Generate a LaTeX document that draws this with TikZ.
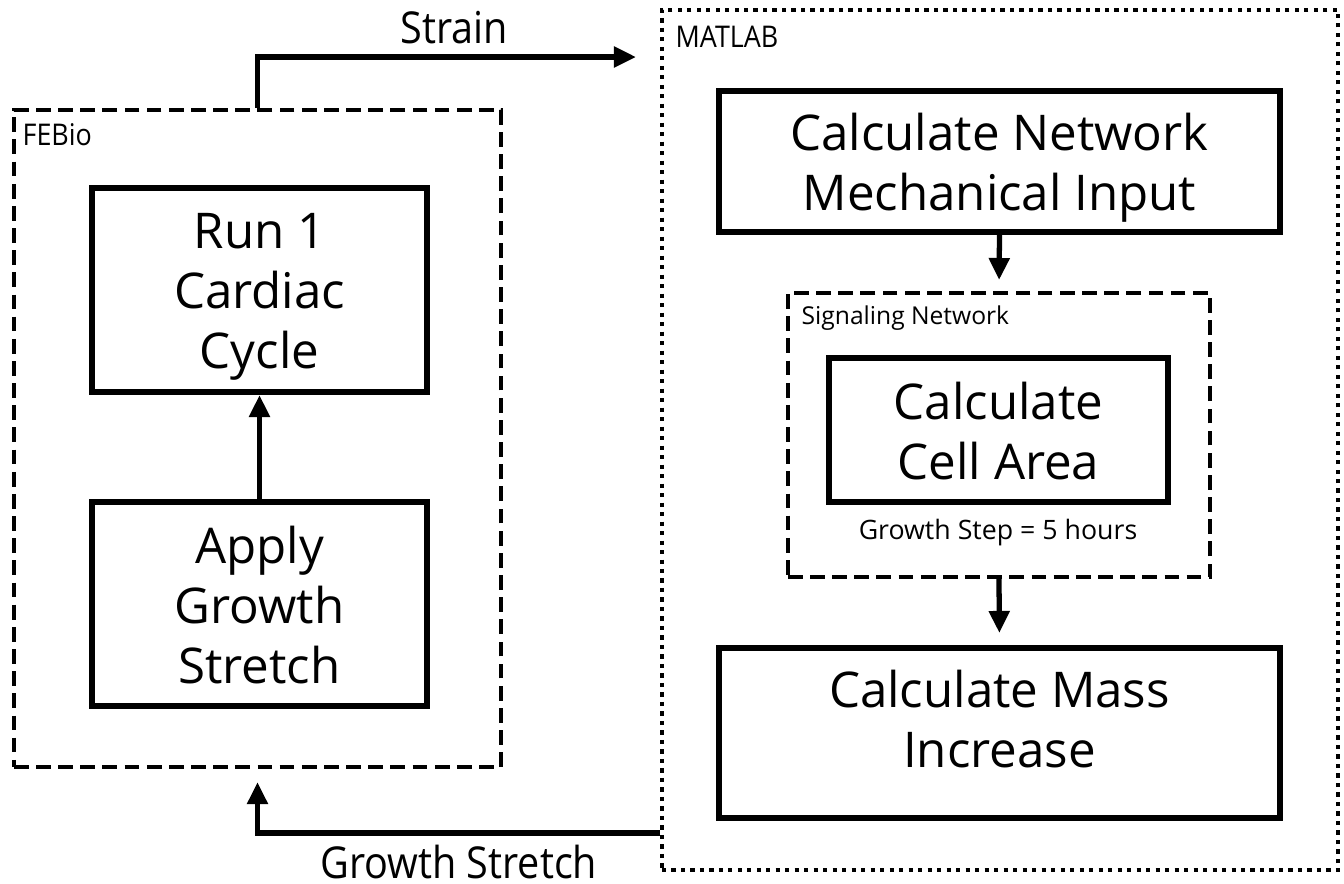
\documentclass[tikz,border=0pt]{standalone}
\usepackage{fontspec}
\setmainfont{Open Sans}
\newfontfamily\condfont[FakeStretch=0.9]{Open Sans}
\usetikzlibrary{arrows.meta,positioning}

% strut that fixes first ascent and last descent of box texts
\newcommand{\ps}{\rule[-3pt]{0pt}{17pt}}

\tikzset{
  procbox/.style={draw, line width=1.7pt, align=center, inner sep=0pt,
    font=\fontsize{14pt}{17pt}\selectfont},
  groupbox/.style={draw, line width=1.1pt, dash pattern=on 4.2pt off 2.1pt},
  toolbox/.style={draw, line width=1.1pt, dash pattern=on 1.2pt off 1.5pt},
  flow/.style={line width=1.5pt, -{Triangle[length=0.22cm,width=0.2cm]}},
  grouplabel/.style={anchor=north west, inner sep=0pt, font=\condfont\fontsize{8.5pt}{9pt}\selectfont},
  flowlabel/.style={inner sep=0pt, font=\condfont\fontsize{12.5pt}{14pt}\selectfont}
}

\begin{document}
\begin{tikzpicture}[x=0.01cm, y=-0.01cm]
    \useasboundingbox (0,0) rectangle (1344,884);

    % FEBio side
    \node[groupbox, minimum width=4.87cm, minimum height=6.57cm] (febio) at (257.5,438.5) {};
    \node[grouplabel] at ([xshift=0.1cm, yshift=-0.15cm]febio.north west) {FEBio};
    \node[procbox, minimum width=3.35cm, minimum height=2.04cm] (run) at (259.5,290) {\ps Run 1\\Cardiac\\Cycle\ps};
    \node[procbox, minimum width=3.35cm, minimum height=2.04cm] (apply) at (259.5,604) {\ps Apply\\Growth\\Stretch\ps};

    % MATLAB side
    \node[toolbox, minimum width=6.76cm, minimum height=8.6cm] (matlab) at (1000,440) {};
    \node[grouplabel] at ([xshift=0.15cm, yshift=-0.18cm]matlab.north west) {MATLAB};
    \node[procbox, minimum width=5.61cm, minimum height=1.41cm] (mech) at (999.5,161.5) {\ps Calculate Network\\Mechanical Input\ps};
    \node[groupbox, minimum width=4.22cm, minimum height=2.84cm] (signet) at (999,435) {};
    \node[grouplabel, font=\fontsize{7pt}{8pt}\selectfont] at ([xshift=0.15cm, yshift=-0.14cm]signet.north west) {Signaling Network};
    \node[procbox, minimum width=3.39cm, minimum height=1.44cm] (cell) at (998.5,430) {\ps Calculate\\Cell Area\ps};
    \node[inner sep=0pt, font=\fontsize{7.6pt}{9pt}\selectfont] (step) at (998,533) {Growth Step = 5 hours};
    \node[procbox, minimum width=5.61cm, minimum height=1.7cm] (mass) at (999.5,733) {\ps Calculate Mass\\Increase\rule[-11.6pt]{0pt}{1pt}};

    % inner arrows
    \draw[flow] (apply.north) -- (run.south);
    \draw[flow, shorten >=0.11cm] (mech.south) -- (signet.north);
    \draw[flow, shorten >=0.12cm] (signet.south) -- (mass.north);

    % exchange between the two tools
    \coordinate (strainend) at (636,57);
    \coordinate (stretchstart) at (matlab.west |- 0,833);
    \draw[flow] (febio.north) |- (strainend) node[flowlabel, pos=0.76, above=0.1cm] {Strain};
    \draw[flow, shorten >=0.13cm] (stretchstart) -| (febio.south) node[flowlabel, pos=0.25, below=0.09cm] {Growth Stretch};
\end{tikzpicture}
\end{document}
